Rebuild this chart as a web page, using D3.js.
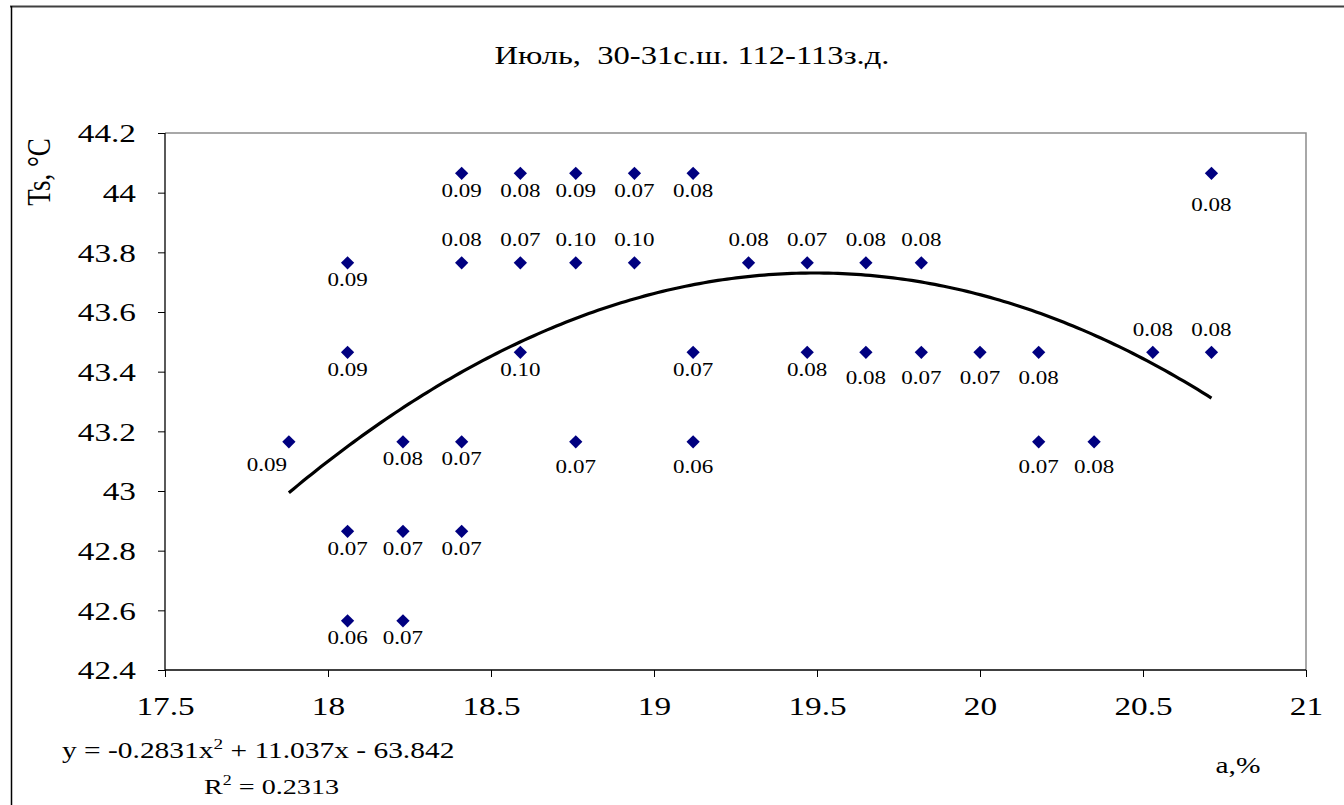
<!DOCTYPE html>
<html><head><meta charset="utf-8">
<script src="https://cdn.jsdelivr.net/npm/d3@7"></script>
<style>html,body{margin:0;padding:0;background:#fff;}</style></head>
<body>
<svg id="chart" width="1344" height="805"></svg>
<script>
// ---- data ----
const title = "Июль,  30-31с.ш. 112-113з.д.";
const xTicks = [17.5, 18, 18.5, 19, 19.5, 20, 20.5, 21];
const yTicks = [42.4, 42.6, 42.8, 43, 43.2, 43.4, 43.6, 43.8, 44, 44.2];
const pointX = [17.88, 18.06, 18.06, 18.06, 18.06, 18.23, 18.23, 18.23, 18.41, 18.41, 18.41, 18.41,
  18.59, 18.59, 18.59, 18.76, 18.76, 18.76, 18.94, 18.94, 19.12, 19.12, 19.12, 19.29,
  19.47, 19.47, 19.65, 19.65, 19.82, 19.82, 20.00, 20.18, 20.18, 20.35, 20.53, 20.71, 20.71];
const pointY = [43.165, 43.765, 43.465, 42.865, 42.565, 43.165, 42.865, 42.565, 44.065, 43.765, 43.165, 42.865,
  44.065, 43.765, 43.465, 44.065, 43.765, 43.165, 44.065, 43.765, 44.065, 43.465, 43.165, 43.765,
  43.765, 43.465, 43.765, 43.465, 43.765, 43.465, 43.465, 43.465, 43.165, 43.165, 43.465, 44.065, 43.465];
const pointLabel = ["0.09","0.09","0.09","0.07","0.06","0.08","0.07","0.07","0.09","0.08","0.07","0.07",
  "0.08","0.07","0.10","0.09","0.10","0.07","0.07","0.10","0.08","0.07","0.06","0.08",
  "0.07","0.08","0.08","0.08","0.08","0.07","0.07","0.08","0.07","0.08","0.08","0.08","0.08"];
// label placement: b = below, B = further below, F = far below, a = above, l = below-left
const labelPlace = ["l","b","b","b","b","b","b","b","b","a","b","b",
  "b","a","b","b","a","B","b","a","b","b","B","a",
  "a","b","a","B","a","B","B","B","B","B","a","F","a"];
const trendCoef = [-0.2831, 11.037, -63.842]; // y = a x^2 + b x + c (as printed on the chart)
const trendRange = [17.88, 20.71];
const equationText = "y = -0.2831x";
const equationRest = " + 11.037x - 63.842";
const r2Value = "0.2313";
const xTitle = "a,%";
const yTitle = "Ts, °C";

// ---- layout ----
const FONT = '"Liberation Serif", "Times New Roman", serif';
const SX = 1.28; // horizontal stretch of the original's text
const svg = d3.select("#chart").style("font-family", FONT);
const L = 165, R = 1306, T = 133, B = 670;
const x = d3.scaleLinear().domain([17.5, 21]).range([L, R]);
const y = d3.scaleLinear().domain([42.4, 44.2]).range([B, T]);

function stretchedText(parent, px, py, str, size, anchor) {
  const g = parent.append("g").attr("transform", `translate(${px},${py}) scale(${SX},1)`);
  return g.append("text").attr("x", 0).attr("y", 0).attr("dy", "0.35em")
    .attr("text-anchor", anchor || "middle").attr("font-size", size)
    .style("font-family", FONT).style("white-space", "pre").attr("fill", "#000").text(str);
}

// outer frame
svg.append("line").attr("x1", 10).attr("x2", 1344).attr("y1", 6.5).attr("y2", 6.5)
  .attr("stroke", "#404040").attr("stroke-width", 2);
svg.append("line").attr("x1", 11.5).attr("x2", 11.5).attr("y1", 6).attr("y2", 805)
  .attr("stroke", "#000").attr("stroke-width", 1.5);

// plot border (top/right gray)
svg.append("path").attr("d", `M${L},${T}H${R}V${B}`).attr("fill", "none")
  .attr("stroke", "#8c8c8c").attr("stroke-width", 1.5);

// axes
const yAxis = d3.axisLeft(y).tickValues(yTicks).tickSize(7).tickPadding(22)
  .tickFormat(d => String(+d.toFixed(1)));
const gy = svg.append("g").attr("transform", `translate(${L},0)`).call(yAxis);
const xAxis = d3.axisBottom(x).tickValues(xTicks).tickSize(7).tickPadding(20)
  .tickFormat(d => String(d));
const gx = svg.append("g").attr("transform", `translate(0,${B})`).call(xAxis);
[gx, gy].forEach(g => {
  g.selectAll(".domain").attr("stroke", "#000").attr("stroke-width", 1.3)
    .attr("d", g === gx ? `M${L},0H${R}` : `M0,${B}V${T}`);
  g.selectAll(".tick line").attr("stroke", "#000").attr("stroke-width", 1);
  g.selectAll(".tick text").style("font-family", FONT).attr("font-size", 26).attr("fill", "#000");
});
gy.selectAll(".tick text").each(function () {
  const t = d3.select(this); const tx = +t.attr("x");
  t.attr("x", 0).attr("dy", "0.34em").attr("transform", `translate(${tx},0) scale(${SX},1)`);
});
gx.selectAll(".tick text").each(function () {
  const t = d3.select(this); const ty = +t.attr("y");
  t.attr("y", 0).attr("dy", "0.71em").attr("transform", `translate(0,${ty}) scale(${SX},1)`);
});

// trend line
const trendPts = d3.range(trendRange[0], trendRange[1] + 1e-9, (trendRange[1] - trendRange[0]) / 200)
  .map(v => [v, trendCoef[0] * v * v + trendCoef[1] * v + trendCoef[2]]);
svg.append("path").datum(trendPts)
  .attr("d", d3.line().x(d => x(d[0])).y(d => y(d[1])))
  .attr("fill", "none").attr("stroke", "#000").attr("stroke-width", 3.2).attr("stroke-linejoin", "round");

// points
const pts = pointX.map((v, i) => ({x: v, y: pointY[i], label: pointLabel[i], place: labelPlace[i]}));
const diamond = d3.symbol().type(d3.symbolSquare).size(88);
svg.append("g").selectAll("path").data(pts).join("path")
  .attr("d", diamond)
  .attr("transform", d => `translate(${x(d.x)},${y(d.y)}) rotate(45)`)
  .attr("fill", "#000080");

const off = {b: [0, 17], B: [0, 25], F: [0, 31], a: [0, -23], l: [-22, 23]};
const lg = svg.append("g");
pts.forEach(d => stretchedText(lg, x(d.x) + off[d.place][0], y(d.y) + off[d.place][1], d.label, 18));

// title
stretchedText(svg, 692, 55, title, 25.5);

// axis titles
svg.append("g").attr("transform", `translate(38,172) scale(${SX},1) rotate(-90)`)
  .append("text").attr("dy", "0.35em").attr("text-anchor", "middle").attr("font-size", 27)
  .style("font-family", FONT).text(yTitle);
stretchedText(svg, 1238, 765, xTitle, 23);

// equation
const eqG = svg.append("g").attr("transform", `translate(62,758) scale(${SX},1)`);
const eq = eqG.append("text").attr("font-size", 23).style("font-family", FONT);
eq.append("tspan").text(equationText);
eq.append("tspan").attr("dy", -9).attr("font-size", 15).text("2");
eq.append("tspan").attr("dy", 9).text(equationRest);
const r2G = svg.append("g").attr("transform", `translate(204,794) scale(${SX},1)`);
const r2 = r2G.append("text").attr("font-size", 22).style("font-family", FONT);
r2.append("tspan").text("R");
r2.append("tspan").attr("dy", -9).attr("font-size", 14).text("2");
r2.append("tspan").attr("dy", 9).text(" = " + r2Value);
</script>
</body></html>
